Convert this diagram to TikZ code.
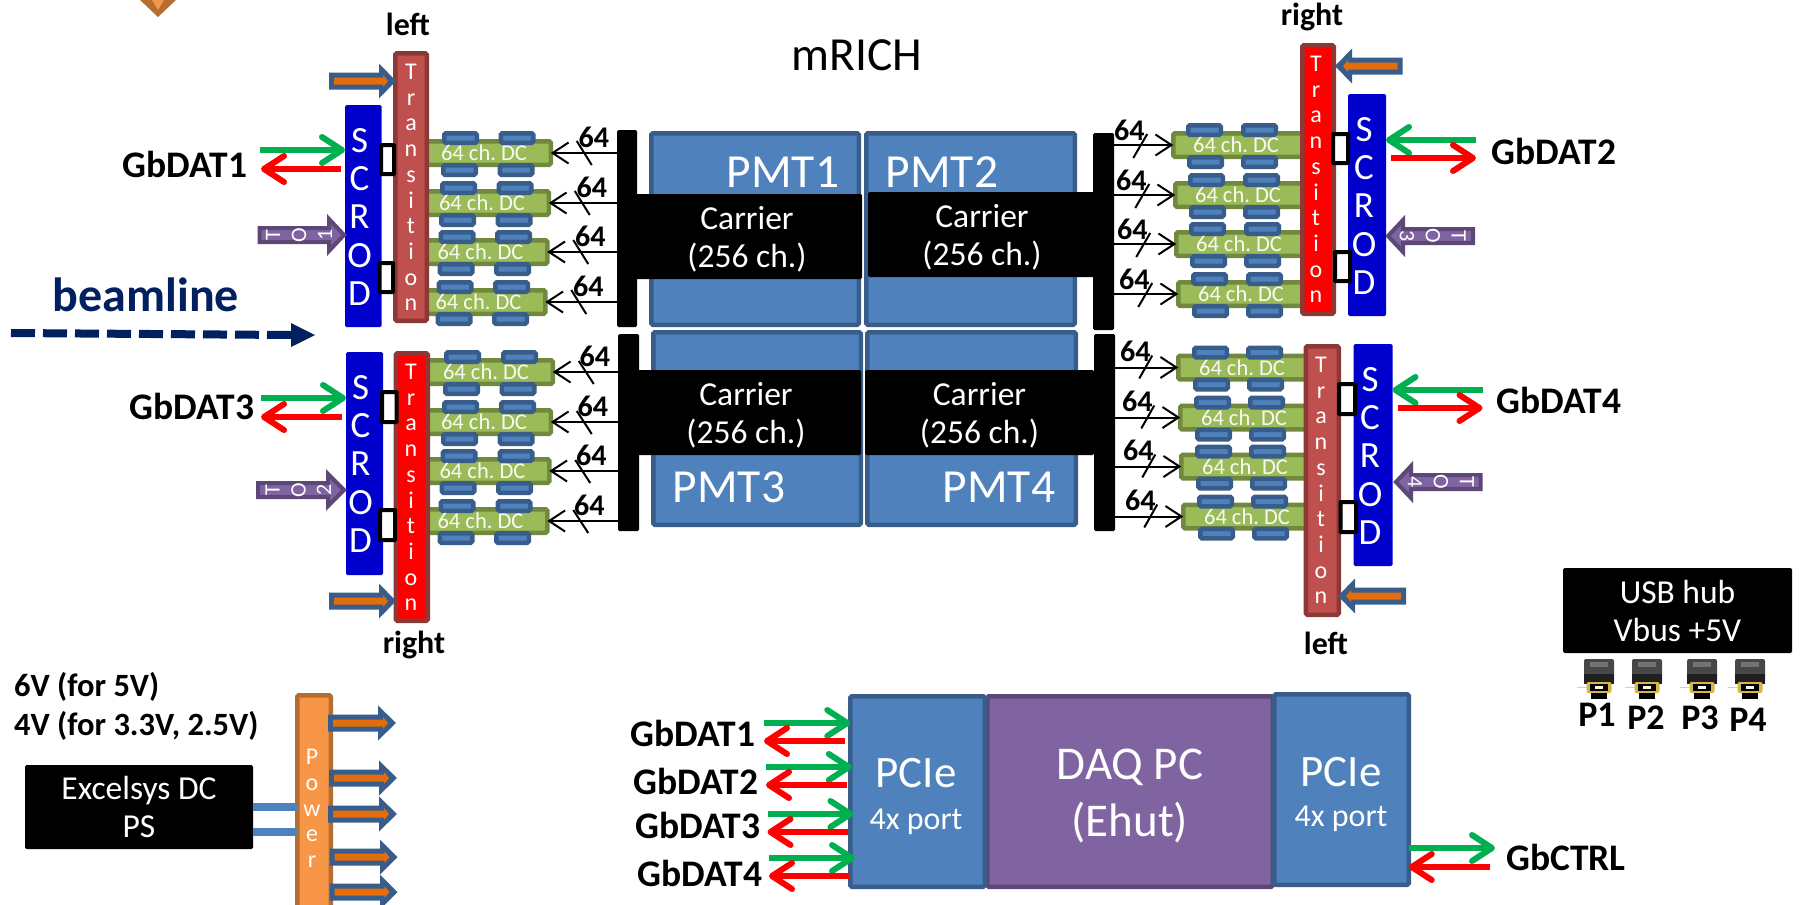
\documentclass[tikz,border=0pt]{standalone}
\usepackage{fontspec}
\setmainfont{Carlito}
\usetikzlibrary{arrows.meta,calc}
\definecolor{pmtfill}{HTML}{4F81BD}
\definecolor{pmtline}{HTML}{385D8A}
\definecolor{redfill}{HTML}{C0504D}
\definecolor{redline}{HTML}{8C3836}
\definecolor{scrodblue}{HTML}{0000CC}
\definecolor{dcfill}{HTML}{9BBB59}
\definecolor{dcline}{HTML}{71893F}
\definecolor{gbgreen}{HTML}{00B050}
\definecolor{pwrfill}{HTML}{F79646}
\definecolor{pwrline}{HTML}{B66D31}
\definecolor{purfill}{HTML}{8064A2}
\definecolor{purline}{HTML}{5C4776}
\definecolor{navy}{HTML}{002060}
\definecolor{innerorange}{HTML}{E46C0A}
\definecolor{plugold}{HTML}{D9B44A}
\definecolor{plugtick}{HTML}{EBCF8F}
\newcommand\fs[2]{\frenchspacing\fontsize{#1}{#2}\selectfont}
\tikzset{
  base/.style={inner sep=0pt,outer sep=0pt,rounded corners=1.5pt,align=center},
  pmtbox/.style={base,draw=pmtline,fill=pmtfill,line width=4.5pt,text=white},
  blackbox/.style={base,fill=black,text=white,font=\fs{33.5}{38}},
  barbox/.style={base,fill=black},
  scrodbox/.style={base,fill=scrodblue},
  transA/.style={base,draw=redline,fill=redfill,line width=4.5pt},
  transB/.style={base,draw=redline,fill=red,line width=4.5pt},
  pwrbox/.style={base,draw=pwrline,fill=pwrfill,line width=4.5pt},
  purbox/.style={base,draw=purline,fill=purfill,line width=4.5pt,text=white},
  dcbox/.style={base,draw=dcline,fill=dcfill,line width=4.5pt},
  tinybox/.style={base,draw=pmtline,fill=pmtfill,line width=4.5pt},
  portbox/.style={base,draw=black,fill=white,line width=4pt,rounded corners=0.5pt},
  whitetxt/.style={inner sep=0pt,text=white},
  boldtxt/.style={inner sep=0pt,text=black,font=\fs{37.5}{42}\bfseries},
  sidetxt/.style={inner sep=0pt,text=black,font=\fs{32}{36}\bfseries},
  sixfour/.style={inner sep=0pt,text=black,font=\fs{30}{32}\bfseries},
  dctxt/.style={whitetxt,text=white!92!dcfill,font=\fs{22.5}{24}},
  vtxt/.style={whitetxt,text height=15pt,text depth=0pt,font=\fs{24}{26}},
  scrodtxt/.style={whitetxt,text height=24pt,text depth=0pt,font=\fs{37}{40}},
  garrow/.style={draw=gbgreen,line width=6pt,-{Straight Barb[length=20pt,width=26pt,round]}},
  rarrow/.style={draw=red,line width=6pt,-{Straight Barb[length=20pt,width=26pt,round]}},
  thinarrow/.style={draw=black,line width=2pt,-{Straight Barb[length=16pt,width=21pt]}},
  slash/.style={draw=black,line width=2pt},
  feed/.style={draw=pmtfill,line width=8pt},
  beam/.style={draw=navy,line width=8pt,dash pattern=on 24pt off 8pt},
  outerarrow/.style={fill=pmtline},
  innerarrow/.style={fill=innerorange},
  purarrow/.style={fill=purfill,draw=purline,line width=4pt,line join=miter},
}
% box from outer extents; #1 = border width to take off
\newcommand\rbx[8][0]{%
  \pgfmathsetmacro\bxcx{(#4+#6)/2}\pgfmathsetmacro\bxcy{(#5+#7)/2}%
  \pgfmathsetmacro\bxw{#6-#4-#1}\pgfmathsetmacro\bxh{#7-#5-#1}%
  \node[#2,minimum width=\bxw pt,minimum height=\bxh pt] (#3) at (\bxcx,\bxcy) {#8};}
\newcommand\blockarrow[7]{%
  \path[#1] (#2,#5-#6) -- (#4,#5-#6) -- (#4,#5-#7) -- (#3,#5) -- (#4,#5+#7) -- (#4,#5+#6) -- (#2,#5+#6) -- cycle;}
\newcommand\powerarrow[4]{% tail, tip, base, y
  \pgfmathsetmacro\sgn{(#2>#1)?1:-1}%
  \pgfmathsetmacro\ita{#1+5*\sgn}\pgfmathsetmacro\iti{#2-8*\sgn}\pgfmathsetmacro\iba{#2-13*\sgn}%
  \blockarrow{outerarrow}{#1}{#2}{#3}{#4}{8.5}{17.5}%
  \blockarrow{innerarrow}{\ita}{\iti}{\iba}{#4}{3.5}{6}}
\newcommand\dcrow[9]{% name,xl,xr,yt,textx,a1,a2,b1,b2
  \pgfmathsetmacro\dca{#4-8}\pgfmathsetmacro\dcb{#4+6}\pgfmathsetmacro\dcc{#4+24}\pgfmathsetmacro\dcd{#4+38}\pgfmathsetmacro\dcm{#4+14}%
  \pgfmathsetmacro\dcbot{#4+28}%
  \rbx[4.5]{dcbox}{#1}{#2}{#4}{#3}{\dcbot}{}%
  \pgfmathsetmacro\xe{#6+37}\rbx[4.5]{tinybox}{#1ta}{#6}{\dca}{\xe}{\dcb}{}%
  \pgfmathsetmacro\xe{#7+37}\rbx[4.5]{tinybox}{#1tb}{#7}{\dca}{\xe}{\dcb}{}%
  \pgfmathsetmacro\xe{#8+37}\rbx[4.5]{tinybox}{#1tc}{#8}{\dcc}{\xe}{\dcd}{}%
  \pgfmathsetmacro\xe{#9+37}\rbx[4.5]{tinybox}{#1td}{#9}{\dcc}{\xe}{\dcd}{}%
  \node[dctxt] (#1txt) at (#5,\dcm) {64 ch. DC};}
\newcommand\vletters[6]{% name,style,x,y0,step,letters
  \foreach \c [count=\i from 0] in {#6} {%
    \pgfmathsetmacro\vy{#4+\i*#5}%
    \node[#2] (#1\i) at (#3,\vy) {\c};}}
\newcommand\plug[1]{% x
  \fill[black!72,rounded corners=2pt] (#1-15,659) rectangle (#1+15,684);
  \fill[black!55] (#1-9,662) rectangle (#1+9,667);
  \fill[black!88] (#1-15,674) rectangle (#1+15,684);
  \draw[draw=plugtick,line width=1.5pt] (#1-22,687.5) -- (#1-11,687.5);
  \fill[plugold,rounded corners=2pt] (#1-12.5,682) rectangle (#1+12.5,693);
  \fill[black] (#1-9,684) rectangle (#1+9,691);
  \fill[white!85!yellow] (#1-4,686) rectangle (#1+4,689);
  \fill[black] (#1-8,693) rectangle (#1+8,698.5);}
\begin{document}
\begin{tikzpicture}[x=1pt,y=-1pt]
\useasboundingbox (0,0) rectangle (1808,905);

% top-left cut-off chevron
\fill[pwrline] (140,0) -- (176,0) -- (158,17) -- cycle;
\fill[pwrfill] (152,0) -- (164,0) -- (158,10) -- cycle;

% mRICH
\node[inner sep=0pt,text=black,font=\fs{47.5}{52}] (title) at (857,55) {mRICH};

% PMTs
\rbx[4.5]{pmtbox}{pmtA}{649}{131}{861}{327}{}
\rbx[4.5]{pmtbox}{pmtB}{864}{131}{1077}{327}{}
\rbx[4.5]{pmtbox}{pmtC}{651}{330}{863}{527}{}
\rbx[4.5]{pmtbox}{pmtD}{865}{330}{1078}{527}{}
\foreach \nm/\tx/\px/\py in {pA/PMT1/783/172,pB/PMT2/942/172,pC/PMT3/729/487,pD/PMT4/999/487}
  \node[whitetxt,font=\fs{47.5}{50}] (\nm) at (\px,\py) {\tx};

% Carriers and bars
\rbx{barbox}{barA}{617}{130}{637}{327}{}
\rbx{barbox}{barB}{1093}{133}{1114}{330}{}
\rbx{barbox}{barC}{618}{334}{639}{531}{}
\rbx{barbox}{barD}{1094}{334}{1115}{531}{}
\newcommand\cartext{\rule{0pt}{29pt}Carrier\\(256 ch.)}
\rbx{blackbox}{carA}{632}{194}{862}{279}{\cartext}
\rbx{blackbox}{carB}{868}{192}{1096}{277}{\cartext}
\rbx{blackbox}{carC}{631}{370}{861}{455}{\cartext}
\rbx{blackbox}{carD}{865}{370}{1094}{455}{\cartext}

% DC rows and wires, left groups
\foreach \n/\dx/\dy in {1/0/0,2/-2/50,3/-3.5/99,4/-5.5/149}{
  \pgfmathsetmacro\xr{553+\dx}\pgfmathsetmacro\yt{139+\dy}\pgfmathsetmacro\tx{484+\dx}
  \pgfmathsetmacro\aa{442+\dx}\pgfmathsetmacro\ab{498.5+\dx}\pgfmathsetmacro\ac{441+\dx}\pgfmathsetmacro\ad{497.5+\dx}
  \dcrow{dcA\n}{415}{\xr}{\yt}{\tx}{\aa}{\ab}{\ac}{\ad}
  \draw[thinarrow] (barA.west |- dcA\n.east) -- (dcA\n.east);
  \draw[slash] ($(dcA\n.east)+(26,-12)$) -- ($(dcA\n.east)+(41,12)$);
  \node[sixfour] (lA\n) at ($(dcA\n.east)+(43,-16)$) {64};
  %
  \pgfmathsetmacro\xr{555+\dx}\pgfmathsetmacro\yt{358+\dy}\pgfmathsetmacro\tx{486+\dx}
  \pgfmathsetmacro\aa{444+\dx}\pgfmathsetmacro\ab{501+\dx}\pgfmathsetmacro\ac{443+\dx}\pgfmathsetmacro\ad{499.5+\dx}
  \dcrow{dcC\n}{415}{\xr}{\yt}{\tx}{\aa}{\ab}{\ac}{\ad}
  \draw[thinarrow] (barC.west |- dcC\n.east) -- (dcC\n.east);
  \draw[slash] ($(dcC\n.east)+(26,-11)$) -- ($(dcC\n.east)+(41,12)$);
  \node[sixfour] (lC\n) at ($(dcC\n.east)+(42,-16)$) {64};
}
% right groups
\foreach \n/\dx/\dy in {1/0/0,2/2/50,3/3/99,4/5/149}{
  \pgfmathsetmacro\xl{1171+\dx}\pgfmathsetmacro\yt{131+\dy}\pgfmathsetmacro\tx{1236+\dx}
  \pgfmathsetmacro\aa{1186+\dx}\pgfmathsetmacro\ab{1241+\dx}\pgfmathsetmacro\ac{1187+\dx}\pgfmathsetmacro\ad{1241+\dx}
  \dcrow{dcB\n}{\xl}{1315}{\yt}{\tx}{\aa}{\ab}{\ac}{\ad}
  \draw[thinarrow] (barB.east |- dcB\n.west) -- (dcB\n.west);
  \draw[slash] ($(dcB\n.west)+(-26,-11)$) -- ($(dcB\n.west)+(-40,13)$);
  \node[sixfour] (lB\n) at ($(dcB\n.west)+(-44,-15)$) {64};
  %
  \pgfmathsetmacro\xl{1176+\dx}\pgfmathsetmacro\yt{353.5+\dy}\pgfmathsetmacro\tx{1242+\dx}
  \pgfmathsetmacro\aa{1192+\dx}\pgfmathsetmacro\ab{1246+\dx}\pgfmathsetmacro\ac{1193+\dx}\pgfmathsetmacro\ad{1247+\dx}
  \dcrow{dcD\n}{\xl}{1320}{\yt}{\tx}{\aa}{\ab}{\ac}{\ad}
  \draw[thinarrow] (barD.east |- dcD\n.west) -- (dcD\n.west);
  \draw[slash] ($(dcD\n.west)+(-26,-12)$) -- ($(dcD\n.west)+(-39,11)$);
  \node[sixfour] (lD\n) at ($(dcD\n.west)+(-43,-16)$) {64};
}

% SCROD + Transition
\rbx{scrodbox}{scA}{345}{105}{381.5}{327}{}
\rbx{scrodbox}{scB}{1348}{94}{1386}{316}{}
\rbx{scrodbox}{scC}{346}{352}{383}{575}{}
\rbx{scrodbox}{scD}{1353.5}{344}{1392.5}{566}{}
\rbx[4.5]{transA}{trA}{393}{51}{429}{323}{}
\rbx[4.5]{transB}{trB}{1300}{43}{1336}{316}{}
\rbx[4.5]{transB}{trC}{393.5}{351}{430}{623}{}
\rbx[4.5]{transA}{trD}{1303.5}{344}{1341}{617}{}
\vletters{tlA}{vtxt}{411}{72}{25.7}{T,r,a,n,s,i,t,i,o,n}
\vletters{tlB}{vtxt}{1316}{64}{25.7}{T,r,a,n,s,i,t,i,o,n}
\vletters{tlC}{vtxt}{411}{372}{25.7}{T,r,a,n,s,i,t,i,o,n}
\vletters{tlD}{vtxt}{1321}{365}{25.7}{T,r,a,n,s,i,t,i,o,n}
\vletters{slA}{scrodtxt}{359.5}{140}{38.4}{S,C,R,O,D}
\vletters{slB}{scrodtxt}{1364}{129}{38.4}{S,C,R,O,D}
\vletters{slC}{scrodtxt}{360.5}{387}{38.4}{S,C,R,O,D}
\vletters{slD}{scrodtxt}{1370}{379}{38.4}{S,C,R,O,D}
% small black-framed ports
\rbx[4]{portbox}{poA1}{379}{143}{396}{176}{}
\rbx[4]{portbox}{poA2}{377.5}{261}{395}{294}{}
\rbx[4]{portbox}{poB1}{1331}{132}{1350}{165}{}
\rbx[4]{portbox}{poB2}{1333}{250}{1352}{283}{}
\rbx[4]{portbox}{poC1}{380}{390}{398.5}{424}{}
\rbx[4]{portbox}{poC2}{378}{508}{397}{542}{}
\rbx[4]{portbox}{poD1}{1337}{382}{1357}{416}{}
\rbx[4]{portbox}{poD2}{1338.5}{500}{1358}{534}{}

% Power inputs at the Transition boards
\powerarrow{329}{396}{379}{81}
\powerarrow{1402.5}{1335}{1352}{66}
\powerarrow{329}{396}{379}{601}
\powerarrow{1406}{1338}{1355}{596}

% T O n arrows
\blockarrow{purarrow}{259.5}{344}{329}{235}{7}{16}
\blockarrow{purarrow}{1473}{1388}{1403}{236}{7}{16}
\blockarrow{purarrow}{258}{344}{328}{490}{7}{16}
\blockarrow{purarrow}{1480.5}{1396}{1411}{482}{7}{16}
\foreach \nm/\lt/\px/\py/\rt in {
  toA1/T/273/235/90,toA2/O/299/235/90,toA3/1/325/235/90,
  toB1/T/1458.6/236/-90,toB2/O/1433/236/-90,toB3/3/1407/236/-90,
  toC1/T/272.5/490/90,toC2/O/298.6/490/90,toC3/2/324/490/90,
  toD1/T/1467/482/-90,toD2/O/1441/482/-90,toD3/4/1415/482/-90}
  \node[whitetxt,font=\fs{22}{24},rotate=\rt] (\nm) at (\px,\py) {\lt};

% GbDAT wires near the SCRODs
\coordinate (gA) at (260,150); \coordinate (rA) at (261,169);
\coordinate (gB) at (1476,140); \coordinate (rB) at (1476,158);
\coordinate (gC) at (261,398); \coordinate (rC) at (261,417);
\coordinate (gD) at (1482.5,390); \coordinate (rD) at (1482.5,408);
\draw[garrow] (gA) -- (scA.west |- gA);
\draw[rarrow] ($(scA.west |- rA)+(-4,0)$) -- (rA);
\draw[garrow] (gB) -- (scB.east |- gB);
\draw[rarrow] ($(scB.east |- rB)+(5,0)$) -- (rB);
\draw[garrow] (gC) -- (scC.west |- gC);
\draw[rarrow] ($(scC.west |- rC)+(-4,0)$) -- (rC);
\draw[garrow] (gD) -- (scD.east |- gD);
\draw[rarrow] ($(scD.east |- rD)+(5,0)$) -- (rD);
\node[boldtxt] (datA) at (185,164) {GbDAT1};
\node[boldtxt] (datB) at (1554,151) {GbDAT2};
\node[boldtxt] (datC) at (192,406) {GbDAT3};
\node[boldtxt] (datD) at (1559,400) {GbDAT4};

% side labels
\node[sidetxt] (leftA) at (408,24) {left};
\node[sidetxt] (rightC) at (414,645) {right};
\node[sidetxt] (rightB) at (1312,17) {right};
\node[sidetxt] (leftD) at (1326,643) {left};

% beamline
\node[inner sep=0pt,text=navy,font=\fs{48}{52}\bfseries] (beamtxt) at (146,295) {beamline};
\coordinate (beamS) at (11,333); \coordinate (beamE) at (291,335); \coordinate (beamT) at (315,335);
\draw[beam] (beamS) -- (beamE);
\fill[navy] (beamE) ++(0,-12) -- (beamT) -- ($(beamE)+(0,12)$) -- cycle;

% Power section
\node[sidetxt,anchor=west,font=\fs{32.5}{36}\bfseries] (v6) at (14,687) {6V (for 5V)};
\node[sidetxt,anchor=west,font=\fs{32.5}{36}\bfseries] (v4) at (14,726) {4V (for 3.3V, 2.5V)};
\rbx[4.5]{pwrbox}{pwr}{295}{693}{333}{915}{}
\rbx{blackbox}{psu}{25}{765}{253}{849}{Excelsys DC\\PS}
\coordinate (fa) at (psu.east |- 0,807); \coordinate (fb) at (psu.east |- 0,832);
\draw[feed] (fa) -- (pwr.west |- fa);
\draw[feed] (fb) -- (pwr.west |- fb);
\vletters{plt}{vtxt}{312}{757}{25.8}{P,o,w,e,r}
\powerarrow{328}{396}{378}{723}
\powerarrow{329}{397}{379}{778}
\powerarrow{328}{397}{379}{814}
\powerarrow{329.5}{397.5}{380}{857}
\powerarrow{329.5}{397.5}{380}{892}

% USB hub
\rbx{blackbox}{usb}{1563}{568}{1792}{653}{USB hub\\Vbus +5V}
\plug{1599} \plug{1647} \plug{1702} \plug{1750}
\foreach \nm/\tx/\px/\py in {pp1/P1/1597/715,pp2/P2/1646/718,pp3/P3/1700/718,pp4/P4/1748/720}
  \node[boldtxt,font=\fs{36}{40}\bfseries] (\nm) at (\px,\py) {\tx};

% DAQ PC
\rbx[4.5]{purbox}{daq}{985}{694}{1275}{889}{}
\rbx[4.5]{pmtbox}{pcieL}{848}{694}{987}{889}{}
\rbx[4.5]{pmtbox}{pcieR}{1272}{692}{1411}{887}{}
\node[whitetxt,font=\fs{47}{52}] (daqA) at (1130,767) {DAQ PC};
\node[whitetxt,font=\fs{47}{52}] (daqB) at (1130,823) {(Ehut)};
\node[whitetxt,font=\fs{45}{50}] (pcLa) at (916,773) {PCIe};
\node[whitetxt,font=\fs{32}{36}] (pcLb) at (916,822) {4x port};
\node[whitetxt,font=\fs{45}{50}] (pcRa) at (1341,772) {PCIe};
\node[whitetxt,font=\fs{32}{36}] (pcRb) at (1341,819) {4x port};
\foreach \n/\xa/\xb/\yg/\yr/\lx/\ly in {1/764/845/723/741/693/733,2/766/847/767/785/696/781,3/767.5/848/814/832/698/825,4/769/849/858/876/700/873}{
  \coordinate (qg\n) at (\xa,\yg); \coordinate (qr\n) at (\xa,\yr);
  \draw[garrow] (qg\n) -- ($(pcieL.west |- qg\n)+({(\n-1)*1.6},0)$);
  \draw[rarrow] ($(pcieL.west |- qr\n)+({(\n-1)*1.4-5},0)$) -- (qr\n);
  \node[boldtxt] (qt\n) at (\lx,\ly) {GbDAT\n};
}
\coordinate (cg) at (1495,848); \coordinate (cr) at (1490,867);
\draw[garrow] (pcieR.east |- cg) -- (cg);
\draw[rarrow] (cr) -- (pcieR.east |- cr);
\node[boldtxt] (ctrl) at (1566,857) {GbCTRL};
\end{tikzpicture}
\end{document}
